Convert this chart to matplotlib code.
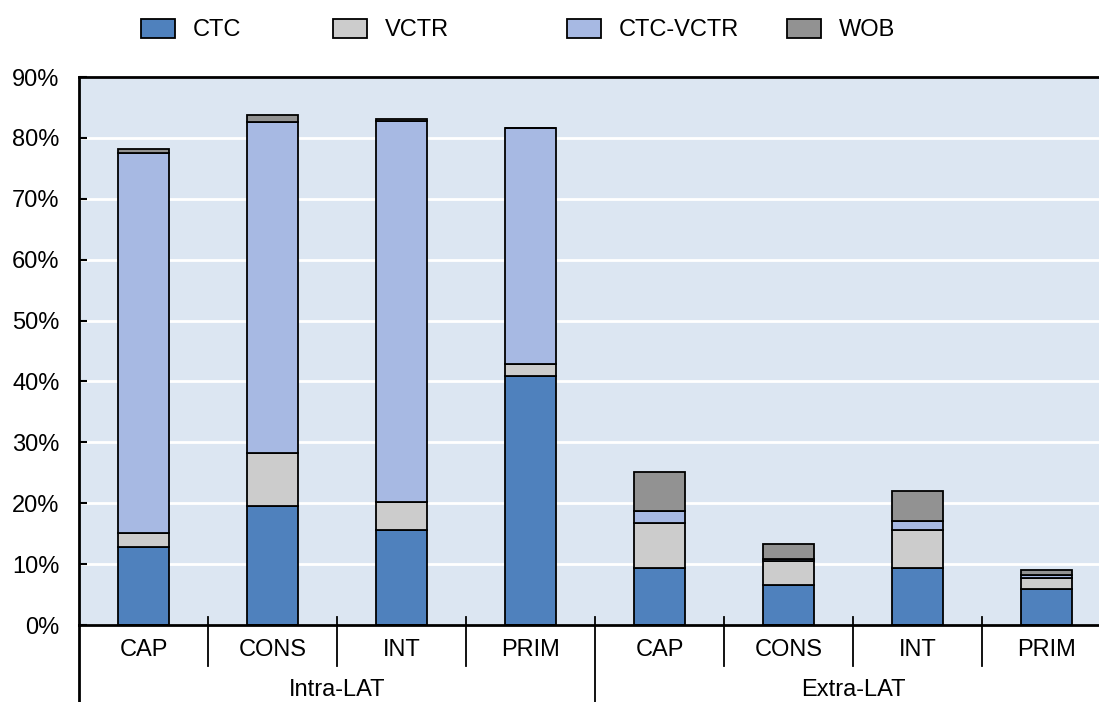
import numpy as np
import matplotlib
matplotlib.use("Agg")
import matplotlib.pyplot as plt
import matplotlib.transforms as mtransforms
from matplotlib.patches import Patch


# =====================================
# DATA
# =====================================

categories = ["CAP", "CONS", "INT", "PRIM", "CAP", "CONS", "INT", "PRIM"]
groups = ["Intra-LAT", "Extra-LAT"]

ctc = [12.8, 19.5, 15.6, 40.9, 9.4, 6.6, 9.4, 5.9]
vctr = [2.3, 8.7, 4.6, 2.0, 7.4, 3.9, 6.2, 1.8]
ctc_vctr = [62.5, 54.4, 62.5, 38.7, 2.0, 0.3, 1.4, 0.5]
wob = [0.5, 1.2, 0.4, 0.1, 6.3, 2.5, 5.0, 0.9]

y_ticks = [0, 10, 20, 30, 40, 50, 60, 70, 80, 90]


# =====================================
# STYLE
# =====================================

plt.rcParams["font.family"] = ["Liberation Sans", "DejaVu Sans"]
FS = 17

colors = {
    "CTC": "#4F81BD",
    "VCTR": "#CCCCCC",
    "CTC-VCTR": "#A7B9E3",
    "WOB": "#929292",
}

W, H = 1099, 702
fig = plt.figure(figsize=(W / 100, H / 100), dpi=100)
ax = fig.add_axes([79 / W, 1 - 625 / H, 1 - 79 / W, 548 / H])
ax.set_facecolor("#DCE6F2")


# =====================================
# BARS
# =====================================

x = np.arange(len(categories))
bottom = np.zeros(len(categories))
series = [("CTC", ctc), ("VCTR", vctr), ("CTC-VCTR", ctc_vctr), ("WOB", wob)]

for name, vals in series:
    vals = np.array(vals)
    ax.bar(x, vals, 0.40, bottom=bottom, color=colors[name],
           edgecolor="black", linewidth=1.3, zorder=3)
    bottom = bottom + vals


# =====================================
# AXES
# =====================================

ax.set_xlim(-0.5, -0.5 + (W - 79) / 129)
ax.set_ylim(0, 90)
ax.set_yticks(y_ticks)
ax.set_yticklabels([f"{v}%" for v in y_ticks], fontsize=FS)
ax.tick_params(axis="y", direction="in", length=6, width=1.5, pad=14)
ax.set_xticks([])

ax.grid(axis="y", color="white", linewidth=2, zorder=1)
ax.set_axisbelow(True)

for side in ["left", "top", "bottom"]:
    ax.spines[side].set_linewidth(2)
    ax.spines[side].set_color("black")
    ax.spines[side].set_zorder(5)
ax.spines["right"].set_visible(False)

trans = mtransforms.blended_transform_factory(ax.transData, ax.transAxes)
ah = 548.0

# category labels and separators
for i, c in enumerate(categories):
    ax.text(i, -25 / ah, c, transform=trans, ha="center", va="center", fontsize=FS)
for s in [0.5, 1.5, 2.5, 4.5, 5.5, 6.5]:
    ax.plot([s, s], [8 / ah, -41 / ah], transform=trans, color="black",
            linewidth=1.3, clip_on=False, zorder=6)

# group labels and separators
ax.plot([3.5, 3.5], [8 / ah, -80 / ah], transform=trans, color="black",
        linewidth=1.3, clip_on=False, zorder=6)
ax.plot([-0.5, -0.5], [0, -80 / ah], transform=trans, color="black",
        linewidth=2, clip_on=False, zorder=6)
ax.text(1.5, -65 / ah, groups[0], transform=trans, ha="center", va="center", fontsize=FS)
ax.text(5.5, -65 / ah, groups[1], transform=trans, ha="center", va="center", fontsize=FS)


# =====================================
# LEGEND
# =====================================

leg_x = [141, 333, 567, 787]
for (name, _), lx in zip(series, leg_x):
    h = Patch(facecolor=colors[name], edgecolor="black", linewidth=1.3)
    leg = fig.legend([h], [name], loc="center left",
                     bbox_to_anchor=(lx / W, 1 - 30 / H), frameon=False,
                     fontsize=FS, handlelength=1.44, handleheight=0.85,
                     handletextpad=0.76, borderpad=0, borderaxespad=0)

fig.savefig("out.png", dpi=100)
